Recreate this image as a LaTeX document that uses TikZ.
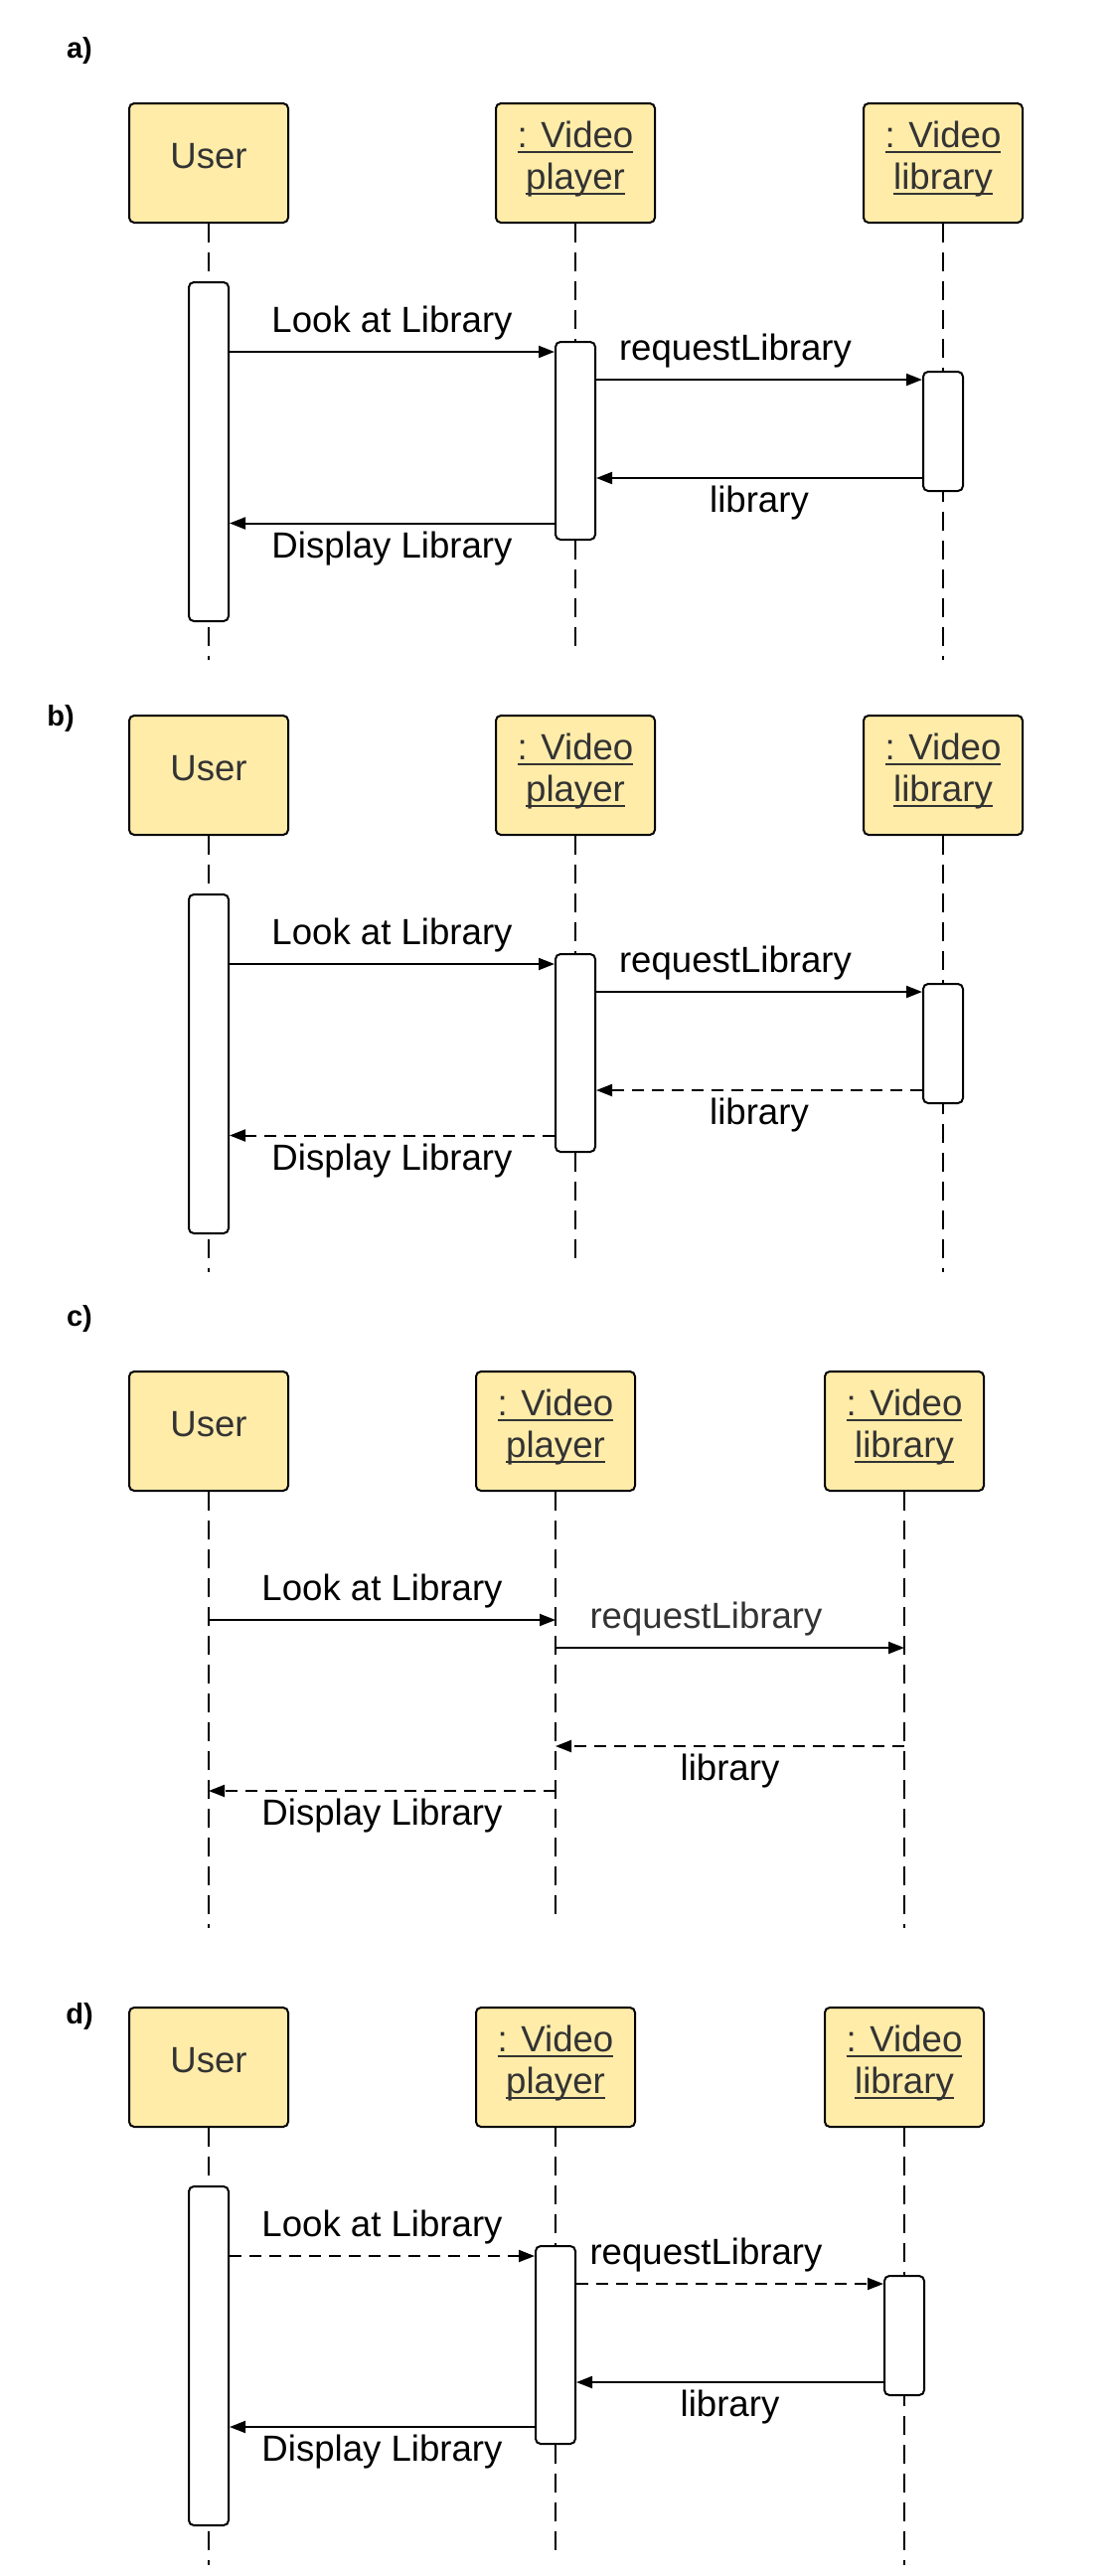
\documentclass[tikz,border=0pt]{standalone}
\usepackage{fontspec}
\setmainfont{Liberation Sans}
\usepackage{xcolor}
\usetikzlibrary{arrows.meta, positioning, calc}
\definecolor{lifeyellow}{HTML}{FFECA9}
\definecolor{namegrey}{HTML}{333333}
\newcommand{\uname}[1]{\setbox0\hbox{#1}\rlap{\rule[-2.7pt]{\wd0}{1.1pt}}\box0}

\begin{document}
\begin{tikzpicture}[x=0.5pt, y=-0.5pt,
        obj/.style={rectangle, draw, line width=1pt, fill=lifeyellow, rounded corners=2.5pt, minimum width=80pt, minimum height=60pt, inner sep=0pt, text depth=7.5pt, text=namegrey, align=center, font=\fontsize{18.3}{21}\selectfont},
        act/.style={rectangle, draw, line width=1pt, fill=white, rounded corners=2.5pt, minimum width=20pt, inner sep=0pt},
        life/.style={draw, line width=1pt, dash pattern=on 9.5pt off 5pt},
        msg/.style={draw, line width=1pt, -{Triangle[length=8pt, width=6pt]}},
        reply/.style={msg, dash pattern=on 6pt off 4pt},
        lbl/.style={inner sep=0pt, font=\fontsize{18.3}{21}\selectfont},
        tag/.style={inner sep=0pt, font=\bfseries\fontsize{14.5}{17}\selectfont}]

    \useasboundingbox (0,0) rectangle (1118,2592);

    % Panel tags
    \node [tag] (tagA) at (80,51) {a)};
    \node [tag] (tagB) at (61,723) {b)};
    \node [tag] (tagC) at (80,1327) {c)};
    \node [tag] (tagD) at (80,2029) {d)};

    % a) all synchronous
    \begin{scope}[shift={(0,104)}, name prefix=a-]
        % Objects
        \node [obj] (user) at (210,60) {User};
        \node [obj] (player) at (579,60) {\uname{: Video}\\\uname{player}};
        \node [obj] (lib) at (949,60) {\uname{: Video}\\\uname{library}};

        % Lifelines
        \coordinate (userEnd) at (210,560);
        \coordinate (playerEnd) at (579,549);
        \coordinate (libEnd) at (949,560);
        \path [life] (user) -- (userEnd);
        \path [life] (player) -- (playerEnd);
        \path [life] (lib) -- (libEnd);

        % Activations
        \node [act, minimum height=170.5pt] (userAct) at (210,350.5) {};
        \node [act, minimum height=99.5pt] (playerAct) at (579,339.5) {};
        \node [act, minimum height=60pt] (libAct) at (949,330) {};

        % Messages
        \coordinate (look) at (0,250);
        \coordinate (req) at (0,278);
        \coordinate (ret) at (0,377);
        \coordinate (show) at (0,422.5);
        \path [msg] (userAct.east |- look) -- node [lbl, above=5.5pt] (lookLbl) {Look at Library} (playerAct.west |- look);
        \path [msg] (playerAct.east |- req) -- node [lbl, above=5.5pt, xshift=-12pt] (reqLbl) {requestLibrary} (libAct.west |- req);
        \path [msg] (libAct.west |- ret) -- node [lbl, below=3.5pt] (retLbl) {library} (playerAct.east |- ret);
        \path [msg] (playerAct.west |- show) -- node [lbl, below=3.5pt] (showLbl) {Display Library} (userAct.east |- show);
    \end{scope}

    % b) asynchronous replies
    \begin{scope}[shift={(0,720)}, name prefix=b-]
        % Objects
        \node [obj] (user) at (210,60) {User};
        \node [obj] (player) at (579,60) {\uname{: Video}\\\uname{player}};
        \node [obj] (lib) at (949,60) {\uname{: Video}\\\uname{library}};

        % Lifelines
        \coordinate (userEnd) at (210,560);
        \coordinate (playerEnd) at (579,549);
        \coordinate (libEnd) at (949,560);
        \path [life] (user) -- (userEnd);
        \path [life] (player) -- (playerEnd);
        \path [life] (lib) -- (libEnd);

        % Activations
        \node [act, minimum height=170.5pt] (userAct) at (210,350.5) {};
        \node [act, minimum height=99.5pt] (playerAct) at (579,339.5) {};
        \node [act, minimum height=60pt] (libAct) at (949,330) {};

        % Messages
        \coordinate (look) at (0,250);
        \coordinate (req) at (0,278);
        \coordinate (ret) at (0,377);
        \coordinate (show) at (0,422.5);
        \path [msg] (userAct.east |- look) -- node [lbl, above=5.5pt] (lookLbl) {Look at Library} (playerAct.west |- look);
        \path [msg] (playerAct.east |- req) -- node [lbl, above=5.5pt, xshift=-12pt] (reqLbl) {requestLibrary} (libAct.west |- req);
        \path [reply] (libAct.west |- ret) -- node [lbl, below=3.5pt] (retLbl) {library} (playerAct.east |- ret);
        \path [reply] (playerAct.west |- show) -- node [lbl, below=3.5pt] (showLbl) {Display Library} (userAct.east |- show);
    \end{scope}

    % c) no activations
    \begin{scope}[shift={(0,1380)}, name prefix=c-]
        % Objects
        \node [obj] (user) at (210,60) {User};
        \node [obj] (player) at (559,60) {\uname{: Video}\\\uname{player}};
        \node [obj] (lib) at (910,60) {\uname{: Video}\\\uname{library}};

        % Lifelines
        \coordinate (userEnd) at (210,560);
        \coordinate (playerEnd) at (559,549);
        \coordinate (libEnd) at (910,560);
        \path [life] (user) -- (userEnd);
        \path [life] (player) -- (playerEnd);
        \path [life] (lib) -- (libEnd);

        % Messages
        \coordinate (look) at (0,250);
        \coordinate (req) at (0,278);
        \coordinate (ret) at (0,377);
        \coordinate (show) at (0,422);
        \path [msg] (user |- look) -- node [lbl, above=5.5pt] (lookLbl) {Look at Library} (player |- look);
        \path [msg] (player |- req) -- node [lbl, above=5.5pt, xshift=-12pt, text=namegrey] (reqLbl) {requestLibrary} (lib |- req);
        \path [reply] (lib |- ret) -- node [lbl, below=3.5pt] (retLbl) {library} (player |- ret);
        \path [reply] (player |- show) -- node [lbl, below=3.5pt] (showLbl) {Display Library} (user |- show);
    \end{scope}

    % d) asynchronous calls
    \begin{scope}[shift={(0,2020)}, name prefix=d-]
        % Objects
        \node [obj] (user) at (210,60) {User};
        \node [obj] (player) at (559,60) {\uname{: Video}\\\uname{player}};
        \node [obj] (lib) at (910,60) {\uname{: Video}\\\uname{library}};

        % Lifelines
        \coordinate (userEnd) at (210,561);
        \coordinate (playerEnd) at (559,550);
        \coordinate (libEnd) at (910,561);
        \path [life] (user) -- (userEnd);
        \path [life] (player) -- (playerEnd);
        \path [life] (lib) -- (libEnd);

        % Activations
        \node [act, minimum height=170.5pt] (userAct) at (210,350.5) {};
        \node [act, minimum height=99.5pt] (playerAct) at (559,339.5) {};
        \node [act, minimum height=60pt] (libAct) at (910,330) {};

        % Messages
        \coordinate (look) at (0,250);
        \coordinate (req) at (0,278);
        \coordinate (ret) at (0,377);
        \coordinate (show) at (0,422);
        \path [reply] (userAct.east |- look) -- node [lbl, above=5.5pt] (lookLbl) {Look at Library} (playerAct.west |- look);
        \path [reply] (playerAct.east |- req) -- node [lbl, above=5.5pt, xshift=-12pt] (reqLbl) {requestLibrary} (libAct.west |- req);
        \path [msg] (libAct.west |- ret) -- node [lbl, below=3.5pt] (retLbl) {library} (playerAct.east |- ret);
        \path [msg] (playerAct.west |- show) -- node [lbl, below=3.5pt] (showLbl) {Display Library} (userAct.east |- show);
    \end{scope}
\end{tikzpicture}
\end{document}
